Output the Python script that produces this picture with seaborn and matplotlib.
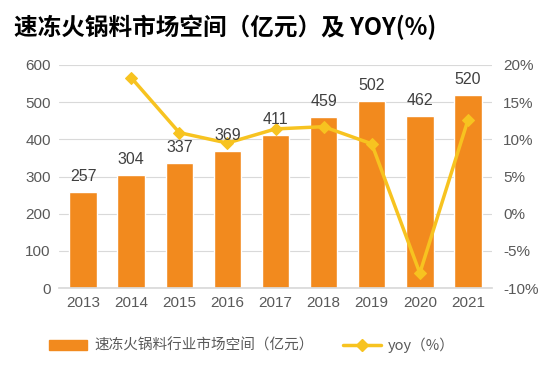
import seaborn as sns
import matplotlib.pyplot as plt
import pandas as pd
import numpy as np
from matplotlib.lines import Line2D
from matplotlib.patches import Patch

# Data
years = ['2013', '2014', '2015', '2016', '2017', '2018', '2019', '2020', '2021']
market_size = [257, 304, 337, 369, 411, 459, 502, 462, 520]
yoy_years = ['2014', '2015', '2016', '2017', '2018', '2019', '2020', '2021']
yoy_pct = [18.3, 10.9, 9.5, 11.4, 11.7, 9.4, -8.0, 12.6]

bar_color = '#F28A1E'
line_color = '#F7C320'
text_color = '#595959'

sns.set_theme(style='white')
plt.rcParams['font.family'] = ['Noto Sans CJK SC', 'DejaVu Sans']

fig = plt.figure(figsize=(5.54, 3.69), dpi=100)
ax = fig.add_axes([59 / 554, 1 - 288 / 369, (492 - 59) / 554, (288 - 65) / 369])

bars = pd.DataFrame({'year': years, 'size': market_size})
sns.barplot(data=bars, x='year', y='size', ax=ax, color=bar_color,
            saturation=1, width=0.57)

ax.set_ylim(0, 600)
ax.set_yticks(range(0, 601, 100))
ax.yaxis.grid(True, color='#D9D9D9', linewidth=0.8)
ax.set_axisbelow(True)
ax.set_xlabel('')
ax.set_ylabel('')
for s in ['top', 'right', 'left']:
    ax.spines[s].set_visible(False)
ax.spines['bottom'].set_color('#D9D9D9')
ax.tick_params(axis='both', length=0, labelsize=11, labelcolor=text_color, pad=6)

# second axis for YOY
ax2 = ax.twinx()
line = pd.DataFrame({'x': [years.index(y) for y in yoy_years], 'yoy': yoy_pct})
sns.lineplot(data=line, x='x', y='yoy', ax=ax2, color=line_color,
             linewidth=2.5, marker='D', markersize=6, markeredgecolor=line_color)
ax2.set_ylim(-10, 20)
ax2.set_yticks(range(-10, 21, 5))
ax2.set_yticklabels([f'{t}%' for t in range(-10, 21, 5)])
ax2.set_xlim(-0.5, len(years) - 0.5)
ax2.set_xlabel('')
ax2.set_ylabel('')
for s in ax2.spines.values():
    s.set_visible(False)
ax2.tick_params(axis='y', length=0, labelsize=11, labelcolor=text_color, pad=8)

# bar value labels sit on top of the yoy line
for i, v in enumerate(market_size):
    ax2.text(i, v + 22, str(v), ha='center', va='bottom', fontsize=11.5,
             color='#404040', family=['Liberation Sans', 'DejaVu Sans'],
             transform=ax.transData, zorder=10)

for a in (ax, ax2):
    for lbl in a.get_xticklabels() + a.get_yticklabels():
        lbl.set_family(['Liberation Sans', 'DejaVu Sans'])

fig.text(14 / 554, 1 - 27 / 369, '速冻火锅料市场空间（亿元）及 YOY(%)',
         fontsize=17, fontweight='bold', color='black', va='center', ha='left')

handles = [Patch(color=bar_color),
           Line2D([0], [0], color=line_color, linewidth=2.5, marker='D',
                  markersize=6)]
fig.legend(handles, ['速冻火锅料行业市场空间（亿元）', 'yoy（%）'],
           loc='center', bbox_to_anchor=(0.455, 1 - 345 / 369), ncol=2,
           frameon=False, fontsize=10.5, handlelength=2.6, handletextpad=0.5,
           columnspacing=2.0, labelcolor=text_color)

fig.savefig('out.png', dpi=100)
